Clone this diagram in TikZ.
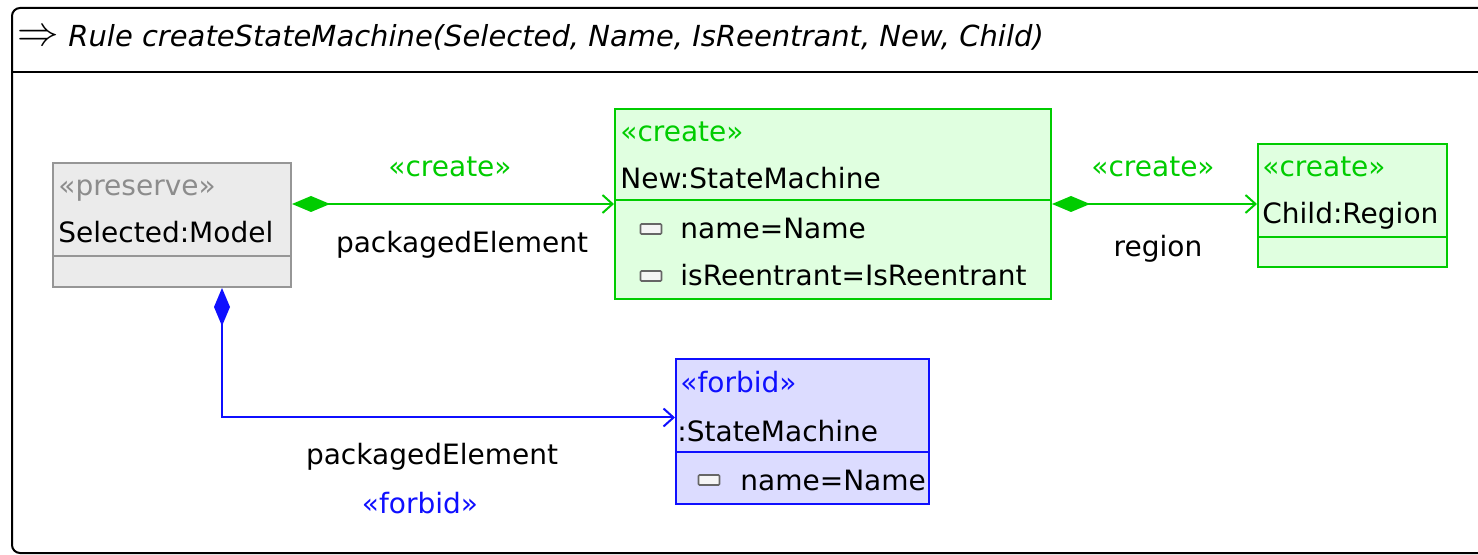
\documentclass[tikz,border=0pt]{standalone}
\usepackage{fontspec}
\setmainfont{DejaVu Sans}
\usetikzlibrary{arrows.meta,positioning}
\definecolor{presline}{RGB}{150,150,150}
\definecolor{presfill}{RGB}{235,235,235}
\definecolor{prestext}{RGB}{140,140,140}
\definecolor{crline}{RGB}{0,204,0}
\definecolor{crfill}{RGB}{224,255,224}
\definecolor{fbline}{RGB}{15,15,255}
\definecolor{fbfill}{RGB}{220,220,255}
\tikzset{box/.style={draw, rectangle, anchor=north west, inner sep=0pt, line width=1pt},
preserve/.style={box, draw=presline, fill=presfill},
create/.style={box, draw=crline, fill=crfill},
forbid/.style={box, draw=fbline, fill=fbfill},
%all texts sit on their baseline
txt/.style={anchor=base west, inner sep=0pt, font=\fontsize{14}{14}\selectfont},
edgetxt/.style={txt, anchor=base},
attr/.style={draw=gray!80!black, fill=gray!8, rounded corners=0.5pt, minimum width=10.5pt, minimum height=5pt, inner sep=0pt, line width=0.8pt},
link/.style={line width=1pt, arrows={Diamond[length=19pt,width=8pt]-Straight Barb[length=5pt,width=9pt]}}}

\begin{document}
\begin{tikzpicture}[x=0.5pt, y=-0.5pt]
        \useasboundingbox (0,0) rectangle (1478,555);
        \draw[line width=1pt, rounded corners=4pt] (1500,8) -- (12,8) -- (12,553) -- (1500,553);
        \draw[line width=1pt] (12,72) -- (1500,72);
        \node[inner sep=0pt] (ruleicon) at (38,38) {\fontsize{21}{21}\selectfont$\Rightarrow$};
        \node[txt, font=\fontsize{14.5}{14.5}\selectfont\itshape] (title) at (68,47) {Rule createStateMachine(Selected, Name, IsReentrant, New, Child)};
        % classes
        \node[preserve, minimum width=119pt, minimum height=62pt] (model) at (52,162) {};
        \node[create, minimum width=218pt, minimum height=95pt] (new) at (614,108) {};
        \node[create, minimum width=94.5pt, minimum height=61.5pt] (child) at (1257,143) {};
        \node[forbid, minimum width=126.5pt, minimum height=72.5pt] (sm) at (675,358) {};
        \draw[presline, line width=1pt] (model.west |- 0,256) -- (model.east |- 0,256);
        \draw[crline, line width=1pt] (new.west |- 0,200) -- (new.east |- 0,200);
        \draw[crline, line width=1pt] (child.west |- 0,237) -- (child.east |- 0,237);
        \draw[fbline, line width=1pt] (sm.west |- 0,452) -- (sm.east |- 0,452);
        \node[txt, text=prestext] (modelst) at (58,196) {«preserve»};
        \node[txt] (modelname) at (58,243) {Selected:Model};
        \node[txt, text=crline] (newst) at (620,142) {«create»};
        \node[txt] (newname) at (620,189) {New:StateMachine};
        \node[txt, text=crline] (childst) at (1262,177) {«create»};
        \node[txt] (childname) at (1262,224) {Child:Region};
        \node[txt, text=fbline] (smst) at (680,393) {«forbid»};
        \node[txt] (smname) at (677,442) {:StateMachine};
        % attributes
        \foreach \a/\y [count=\i] in {name=Name/239, isReentrant=IsReentrant/286}{
          \node[attr] (newicon\i) at (651,\y-10) {};
          \node[txt] (newattr\i) at (680,\y) {\a};
        }
        \node[attr] (smicon) at (709,480) {};
        \node[txt] (smattr) at (740,491) {name=Name};
        % references
        \draw[link, crline] (new.west -| model.east) -- (new.west);
        \draw[link, crline] (new.east) -- (new.east -| child.west);
        \draw[link, fbline] ([xshift=25pt]model.south) |- ([yshift=7pt]sm.west);
        \node[edgetxt, text=crline] (pest) at (450,177) {«create»};
        \node[edgetxt] (pename) at (462,253) {packagedElement};
        \node[edgetxt, text=crline] (regst) at (1153,177) {«create»};
        \node[edgetxt] (regname) at (1158,257) {region};
        \node[edgetxt] (fpename) at (432,465) {packagedElement};
        \node[edgetxt, text=fbline] (fpest) at (420,514) {«forbid»};
      \end{tikzpicture}
\end{document}
